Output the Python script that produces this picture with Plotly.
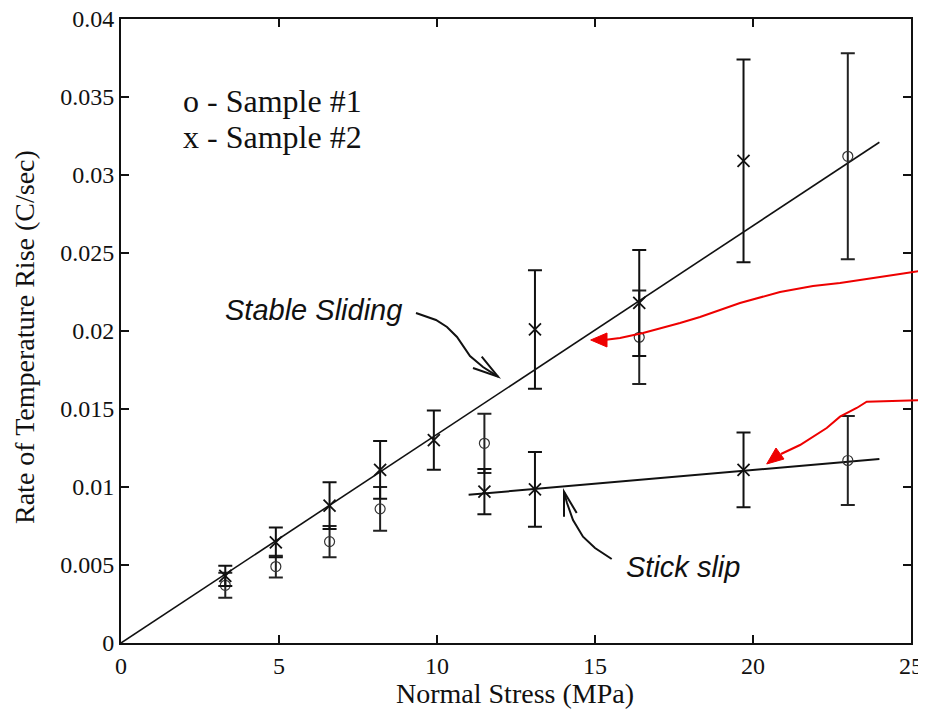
import plotly.graph_objects as go

# ---------------- data ----------------
s1_x = [3.3, 4.9, 6.6, 8.2, 11.5, 16.4, 23.0, 23.0]
s1_y = [0.0037, 0.0049, 0.0065, 0.0086, 0.0128, 0.0196, 0.0312, 0.0117]
s1_err = [0.0008, 0.0007, 0.0010, 0.0014, 0.0019, 0.0030, 0.0066, 0.00285]

s2_x = [3.3, 4.9, 6.6, 8.2, 9.9, 11.5, 13.1, 13.1, 16.4, 19.7, 19.7]
s2_y = [0.0043, 0.00645, 0.0088, 0.0111, 0.0130, 0.0097, 0.0201, 0.00985, 0.0218, 0.0309, 0.0111]
s2_err = [0.00065, 0.00095, 0.0015, 0.00185, 0.0019, 0.00145, 0.0038, 0.0024, 0.0034, 0.0065, 0.0024]

stable_x = [0.0, 24.0]
stable_y = [0.0, 0.0321]
stick_x = [11.0, 24.0]
stick_y = [0.0095, 0.0118]

x_ticks = [0, 5, 10, 15, 20, 25]
y_ticks = [0, 0.005, 0.01, 0.015, 0.02, 0.025, 0.03, 0.035, 0.04]
y_tick_text = ["0", "0.005", "0.01", "0.015", "0.02", "0.025", "0.03", "0.035", "0.04"]

# ---------------- layout geometry ----------------
# the page body adds an 8px margin, so the figure is drawn 8px in from the window corner
OFF = 8
W, H = 918, 705
L, R, T, B = 113, 15, 11, 70
PW, PH = W - L - R, H - T - B


def px(x, y):
    """window pixel -> paper coordinates"""
    return (x - OFF - L) / PW, (H - B - (y - OFF)) / PH


def path(points, close=False):
    s = ""
    for i, (x, y) in enumerate(points):
        a, b = px(x, y)
        s += ("M" if i == 0 else "L") + f"{a:.5f},{b:.5f} "
    if close:
        s += "Z"
    return s


SERIF = "Liberation Serif, Times New Roman, serif"
SANS = "Liberation Sans, Arial, sans-serif"

fig = go.Figure()

fig.add_trace(go.Scatter(x=stable_x, y=stable_y, mode="lines",
                         line=dict(color="#111", width=1.6), showlegend=False))
fig.add_trace(go.Scatter(x=stick_x, y=stick_y, mode="lines",
                         line=dict(color="#111", width=2), showlegend=False))

fig.add_trace(go.Scatter(
    x=s1_x, y=s1_y, mode="markers",
    marker=dict(symbol="circle-open", size=10, color="#333", line=dict(width=1.2)),
    error_y=dict(type="data", array=s1_err, visible=True, color="#222", thickness=2, width=7),
    showlegend=False))
fig.add_trace(go.Scatter(
    x=s2_x, y=s2_y, mode="markers",
    marker=dict(symbol="x-thin-open", size=12, color="#111", line=dict(width=1.8)),
    error_y=dict(type="data", array=s2_err, visible=True, color="#111", thickness=2, width=7),
    showlegend=False))

shapes = []
# red hand-drawn arrows
red_up = [(926, 270), (900, 274), (840, 283), (813, 286), (780, 292), (740, 303),
          (700, 317), (680, 323), (643, 333), (620, 338), (604, 340)]
shapes.append(dict(type="path", xref="paper", yref="paper", path=path(red_up),
                   line=dict(color="#ee0000", width=2)))
shapes.append(dict(type="path", xref="paper", yref="paper",
                   path=path([(590.7, 340), (607, 333), (607, 347)], close=True),
                   fillcolor="#ee0000", line=dict(color="#ee0000", width=1)))
red_low = [(926, 400), (866.7, 401.7), (856.7, 408), (840, 416.7), (826.7, 428),
           (800, 445), (781, 454)]
shapes.append(dict(type="path", xref="paper", yref="paper", path=path(red_low),
                   line=dict(color="#ee0000", width=2)))
shapes.append(dict(type="path", xref="paper", yref="paper",
                   path=path([(766.7, 464), (784, 459), (776, 448)], close=True),
                   fillcolor="#ee0000", line=dict(color="#ee0000", width=1)))

# black hand-drawn arrows
stable_arrow = [(416, 313), (436, 320), (447, 327), (457, 337), (470, 356), (483, 367), (498, 376.7)]
shapes.append(dict(type="path", xref="paper", yref="paper", path=path(stable_arrow),
                   line=dict(color="#111", width=2)))
shapes.append(dict(type="path", xref="paper", yref="paper",
                   path=path([(473, 368), (498, 376.7), (481.7, 356.7)]),
                   line=dict(color="#111", width=2)))
stick_arrow = [(611.7, 559), (595, 548), (583, 536.7), (573, 520), (567, 503), (564, 491.7)]
shapes.append(dict(type="path", xref="paper", yref="paper", path=path(stick_arrow),
                   line=dict(color="#111", width=2)))
shapes.append(dict(type="path", xref="paper", yref="paper",
                   path=path([(564, 516.7), (564, 491.7), (576.7, 513)]),
                   line=dict(color="#111", width=2)))

annotations = []


def text(x, y, s, size, family, xanchor="center", angle=0, italic=False):
    a, b = px(x, y)
    annotations.append(dict(
        x=a, y=b, xref="paper", yref="paper", text=(f"<i>{s}</i>" if italic else s),
        showarrow=False, xanchor=xanchor, yanchor="middle", textangle=angle,
        font=dict(family=family, size=size, color="#111")))


text(181, 101, "o - Sample #1", 32, SERIF, xanchor="left")
text(181, 137, "x - Sample #2", 32, SERIF, xanchor="left")
text(313, 310, "Stable Sliding", 29, SANS, italic=True)
text(683, 567, "Stick slip", 29, SANS, italic=True)
text(515, 693, "Normal Stress (MPa)", 28, SERIF)
text(24, 337, "Rate of Temperature Rise (C/sec)", 28, SERIF, angle=-90)

fig.update_layout(
    width=W, height=H,
    margin=dict(l=L, r=R, t=T, b=B, autoexpand=False),
    plot_bgcolor="white", paper_bgcolor="white",
    shapes=shapes, annotations=annotations,
    showlegend=False,
    font=dict(family=SERIF, color="#111"),
)
fig.update_xaxes(range=[0, 25], tickvals=x_ticks, ticks="inside", ticklen=8, tickwidth=1.5,
                 tickcolor="#111", showline=True, linewidth=2, linecolor="#111", mirror="ticks",
                 showgrid=False, zeroline=False, tickfont=dict(size=24, family=SERIF),
                 automargin=False, ticklabeloverflow="allow")
fig.update_yaxes(range=[0, 0.04], tickvals=y_ticks, ticktext=y_tick_text, ticks="inside",
                 ticklen=8, tickwidth=1.5, tickcolor="#111", showline=True, linewidth=2,
                 linecolor="#111", mirror="ticks", showgrid=False, zeroline=False,
                 tickfont=dict(size=24, family=SERIF), automargin=False,
                 ticklabeloverflow="allow")

fig.write_html("out.html")
